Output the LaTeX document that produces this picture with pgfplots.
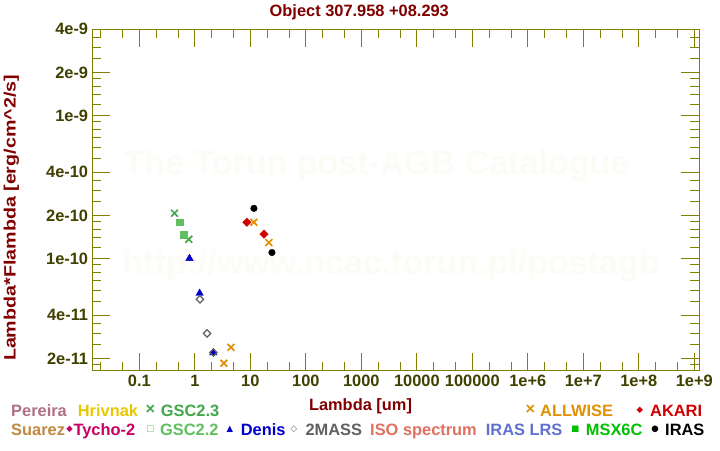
\documentclass[border=0pt]{standalone}
\usepackage{fontspec}
\setmainfont{Liberation Sans}
\newfontfamily\symfont{DejaVu Sans}
\usepackage{pgfplots}
\pgfplotsset{compat=1.18}
\definecolor{darkred}{RGB}{128,0,0}
\definecolor{axolive}{RGB}{128,128,0}
\definecolor{ticklab}{RGB}{64,64,0}
\definecolor{wm}{RGB}{252,251,246}
\definecolor{cpereira}{RGB}{176,112,136}
\definecolor{chrivnak}{RGB}{230,200,0}
\definecolor{cgsc23}{RGB}{64,168,72}
\definecolor{csuarez}{RGB}{192,136,64}
\definecolor{ctycho}{RGB}{200,0,100}
\definecolor{cgsc22}{RGB}{96,192,96}
\definecolor{cdenis}{RGB}{0,0,200}
\definecolor{ctwomass}{RGB}{96,96,96}
\definecolor{ciso}{RGB}{224,112,96}
\definecolor{cirlrs}{RGB}{96,112,208}
\definecolor{cmsx}{RGB}{0,192,0}
\definecolor{cwise}{RGB}{224,144,0}
\definecolor{cakari}{RGB}{208,0,0}
\newcommand{\lf}{\fontsize{16.4}{19}\selectfont\bfseries}
\newcommand{\symf}{\fontsize{8.5}{9}\selectfont\symfont}
\begin{document}
\begin{tikzpicture}[x=1pt,y=1pt]
\useasboundingbox (0,0) rectangle (720,450);
\fill[white] (0,0) rectangle (720,450);
% watermark
\node[anchor=base, inner sep=0pt, text=wm, font=\fontsize{34}{40}\selectfont\bfseries] at (376.5,275) {The Torun post-AGB Catalogue};
\node[anchor=base, inner sep=0pt, text=wm, font=\fontsize{34}{40}\selectfont\bfseries] at (391,175) {http://www.ncac.torun.pl/postagb};
\begin{axis}[
  at={(92.3pt,79.3pt)}, anchor=south west,
  scale only axis, width=607pt, height=341.4pt,
  xmode=log, ymode=log,
  xmin=0.01419, xmax=1.23e9, ymin=1.64e-11, ymax=4e-9,
  axis line style={axolive, line width=1.5pt},
  tick style={axolive, line width=1pt},
  major tick length=18pt, minor tick length=9pt,
  tick align=inside,
  xtick pos=both, ytick pos=both,
  xticklabel pos=lower, yticklabel pos=left,
  xtick={0.1,1,10,100,1000,10000,100000,1e6,1e7,1e8,1e9},
  xticklabels={0.1,1,10,100,1000,10000,100000,1e+6,1e+7,1e+8,1e+9},
  minor xtick={0.02,0.05,0.2,0.5,2,5,20,50,200,500,2000,5000,2e4,5e4,2e5,5e5,2e6,5e6,2e7,5e7,2e8,5e8},
  ytick={2e-11,4e-11,1e-10,2e-10,4e-10,1e-9,2e-9,4e-9},
  yticklabels={2e-11,4e-11,1e-10,2e-10,4e-10,1e-9,2e-9,4e-9},
  minor ytick={1.8e-11,2.5e-11,3e-11,3.5e-11,5e-11,6e-11,7e-11,8e-11,9e-11,
    1.2e-10,1.4e-10,1.6e-10,1.8e-10,2.5e-10,3e-10,3.5e-10,5e-10,6e-10,7e-10,8e-10,9e-10,
    1.2e-9,1.4e-9,1.6e-9,1.8e-9,2.5e-9,3e-9,3.5e-9},
  ticklabel style={font=\lf, text=ticklab},
  xticklabel style={inner sep=0pt, yshift=-4.5pt},
  yticklabel style={inner sep=0pt, xshift=-4pt},
]
% GSC2.3
\addplot[only marks, mark=x, mark size=4.8pt, color=cgsc23, mark options={line width=1.7pt}]
  coordinates {(0.43,2.07e-10) (0.78,1.36e-10)};
% GSC2.2
\addplot[only marks, mark=square*, mark size=3.3pt, color=cgsc22, mark options={fill=cgsc22, draw=cgsc22}]
  coordinates {(0.536,1.79e-10) (0.63,1.46e-10)};
% Denis
\addplot[only marks, mark=triangle*, mark size=4.3pt, color=cdenis, mark options={fill=cdenis, draw=cdenis}]
  coordinates {(0.80,1.0e-10) (1.22,5.70e-11) (2.15,2.19e-11)};
% 2MASS
\addplot[only marks, mark=square, mark size=2.6pt, color=ctwomass, mark options={rotate=45, line width=1.2pt}]
  coordinates {(1.235,5.18e-11) (1.66,2.99e-11) (2.16,2.20e-11)};
% ALLWISE
\addplot[only marks, mark=x, mark size=4.8pt, color=cwise, mark options={line width=1.7pt}]
  coordinates {(3.34,1.85e-11) (4.46,2.39e-11) (11.6,1.79e-10) (21.6,1.29e-10)};
% AKARI
\addplot[only marks, mark=square*, mark size=3.0pt, color=cakari, mark options={rotate=45, fill=cakari, draw=cakari}]
  coordinates {(8.67,1.79e-10) (17.6,1.48e-10)};
% IRAS
\addplot[only marks, mark=*, mark size=3.3pt, color=black, mark options={fill=black}]
  coordinates {(11.6,2.24e-10) (24.5,1.10e-10)};
\end{axis}
% title and labels
\node[anchor=base, inner sep=0pt, text=darkred, font=\lf] at (359.3,433) {Object 307.958 +08.293};
\node[anchor=base, inner sep=0pt, text=darkred, font=\lf] at (360.5,40) {Lambda [um]};
\node[anchor=base, inner sep=0pt, text=darkred, font=\lf, rotate=90] at (15.7,232) {\scalebox{1.2}[1]{Lambda*Flambda [erg/cm\^{}2/s]}};
% legend row 1
\node[anchor=base west, inner sep=0pt, text=cpereira, font=\lf] at (11,34) {Pereira};
\node[anchor=base west, inner sep=0pt, text=chrivnak, font=\lf] at (77.7,34) {Hrivnak};
\node[inner sep=0pt, text=cgsc23, font=\lf] at (150.3,40) {×};
\node[anchor=base west, inner sep=0pt, text=cgsc23, font=\lf] at (160.7,34) {GSC2.3};
\node[inner sep=0pt, text=cwise, font=\lf] at (530.3,40) {×};
\node[anchor=base west, inner sep=0pt, text=cwise, font=\lf] at (540,34) {ALLWISE};
\node[inner sep=0pt, text=cakari, font=\symf] at (640,40) {◆};
\node[anchor=base west, inner sep=0pt, text=cakari, font=\lf] at (650,34) {AKARI};
% legend row 2
\node[anchor=base west, inner sep=0pt, text=csuarez, font=\lf] at (11,15) {Suarez};
\node[inner sep=0pt, text=ctycho, font=\symf] at (69.7,20.5) {◆};
\node[anchor=base west, inner sep=0pt, text=ctycho, font=\lf] at (73.3,15) {Tycho-2};
\node[inner sep=0pt, text=cgsc22, font=\symf] at (150.3,20.5) {□};
\node[anchor=base west, inner sep=0pt, text=cgsc22, font=\lf] at (160,15) {GSC2.2};
\node[inner sep=0pt, text=cdenis, font=\symf] at (230,21) {▲};
\node[anchor=base west, inner sep=0pt, text=cdenis, font=\lf] at (240.7,15) {Denis};
\node[inner sep=0pt, text=ctwomass, font=\symf] at (293.8,20.5) {◇};
\node[anchor=base west, inner sep=0pt, text=ctwomass, font=\lf] at (305.3,15) {2MASS};
\node[anchor=base west, inner sep=0pt, text=ciso, font=\lf] at (370,15) {ISO spectrum};
\node[anchor=base west, inner sep=0pt, text=cirlrs, font=\lf] at (485.7,15) {IRAS LRS};
\node[inner sep=0pt, text=cmsx, font=\symf] at (575.3,20.5) {■};
\node[anchor=base west, inner sep=0pt, text=cmsx, font=\lf] at (585.7,15) {MSX6C};
\node[inner sep=0pt, text=black, font=\symf] at (655,20.5) {●};
\node[anchor=base west, inner sep=0pt, text=black, font=\lf] at (665,15) {IRAS};
\end{tikzpicture}
\end{document}
